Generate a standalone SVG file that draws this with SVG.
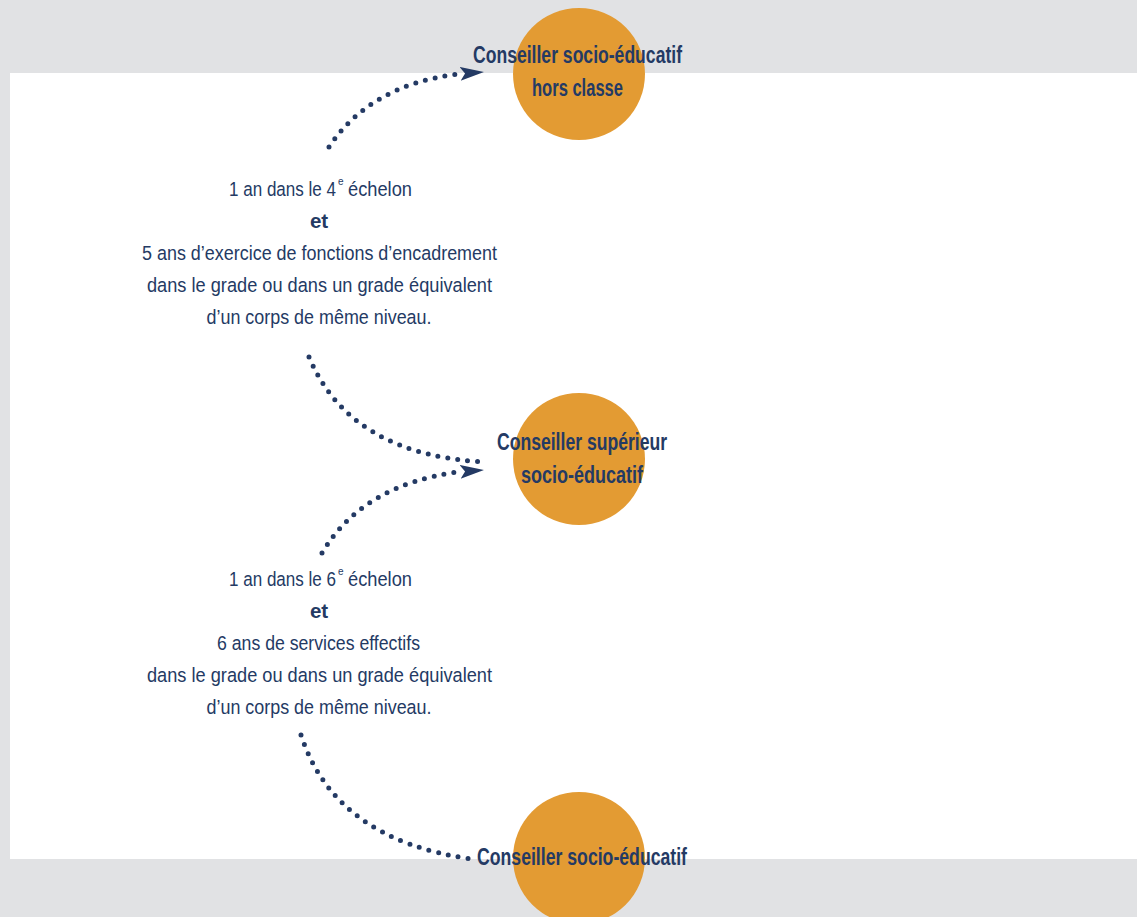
<svg xmlns="http://www.w3.org/2000/svg" width="1137" height="917" viewBox="0 0 1137 917">
<style>
.node{fill:#e39b33}
.h{font-family:"Liberation Sans Narrow","Liberation Sans",Arial,sans-serif;font-weight:bold;font-size:23px;fill:#243a64;text-anchor:middle}
.b{font-family:"Liberation Sans Narrow","Liberation Sans",Arial,sans-serif;font-size:20.5px;fill:#243a64;text-anchor:middle}
.s{text-anchor:start}
.bb{font-weight:bold}
.sup{font-family:"Liberation Sans",Arial,sans-serif;font-size:10px;fill:#243a64}
.dot{fill:none;stroke:#243a64;stroke-width:5;stroke-linecap:round;stroke-dasharray:0 10}
</style>
<defs>
<marker id="arr" viewBox="0 0 24 14" refX="23" refY="7" markerWidth="24" markerHeight="14" markerUnits="userSpaceOnUse" orient="auto">
<path d="M0,0 L24,7 L0,14 L5,7 Z" fill="#243a64"/>
</marker>
</defs>
<rect x="0" y="0" width="1137" height="917" fill="#e1e2e4"/>
<rect x="10" y="73" width="1127" height="786" fill="#ffffff"/>

<g id="connectors">
<path class="dot" d="M329,147 Q370,85 458,74"/>
<path d="M452,74.5 L483,72" stroke="none" fill="none" marker-end="url(#arr)"/>
<path class="dot" d="M309,357 Q350,455 485,462"/>
<path class="dot" d="M322,553 Q362,485 458,472"/>
<path d="M452,472.5 L483,470" stroke="none" fill="none" marker-end="url(#arr)"/>
<path class="dot" d="M301,735 Q335,840 472,859"/>
</g>

<g id="node-hors-classe">
<circle class="node" cx="579" cy="74" r="66"/>
<text class="h" x="577.5" y="63" textLength="209" lengthAdjust="spacingAndGlyphs">Conseiller socio-éducatif</text>
<text class="h" x="577.5" y="96" textLength="91" lengthAdjust="spacingAndGlyphs">hors classe</text>
</g>

<g id="node-superieur">
<circle class="node" cx="579" cy="459" r="66"/>
<text class="h" x="582" y="450" textLength="170" lengthAdjust="spacingAndGlyphs">Conseiller supérieur</text>
<text class="h" x="582" y="483" textLength="122" lengthAdjust="spacingAndGlyphs">socio-éducatif</text>
</g>

<g id="node-conseiller">
<circle class="node" cx="579" cy="858" r="66"/>
<text class="h" x="582" y="865" textLength="210" lengthAdjust="spacingAndGlyphs">Conseiller socio-éducatif</text>
</g>

<g id="condition-1">
<text class="b s" x="229" y="196" textLength="107" lengthAdjust="spacingAndGlyphs">1 an dans le 4</text>
<text class="sup" x="338" y="185">e</text>
<text class="b s" x="348" y="196" textLength="64" lengthAdjust="spacingAndGlyphs">échelon</text>
<text class="b bb" x="319" y="228">et</text>
<text class="b" x="319.5" y="260" textLength="355" lengthAdjust="spacingAndGlyphs">5 ans d’exercice de fonctions d’encadrement</text>
<text class="b" x="319.5" y="292" textLength="345" lengthAdjust="spacingAndGlyphs">dans le grade ou dans un grade équivalent</text>
<text class="b" x="319" y="324" textLength="225" lengthAdjust="spacingAndGlyphs">d’un corps de même niveau.</text>
</g>

<g id="condition-2">
<text class="b s" x="229" y="586" textLength="107" lengthAdjust="spacingAndGlyphs">1 an dans le 6</text>
<text class="sup" x="338" y="575">e</text>
<text class="b s" x="348" y="586" textLength="64" lengthAdjust="spacingAndGlyphs">échelon</text>
<text class="b bb" x="319" y="618">et</text>
<text class="b" x="318.5" y="650" textLength="203" lengthAdjust="spacingAndGlyphs">6 ans de services effectifs</text>
<text class="b" x="319.5" y="682" textLength="345" lengthAdjust="spacingAndGlyphs">dans le grade ou dans un grade équivalent</text>
<text class="b" x="319" y="714" textLength="225" lengthAdjust="spacingAndGlyphs">d’un corps de même niveau.</text>
</g>
</svg>
